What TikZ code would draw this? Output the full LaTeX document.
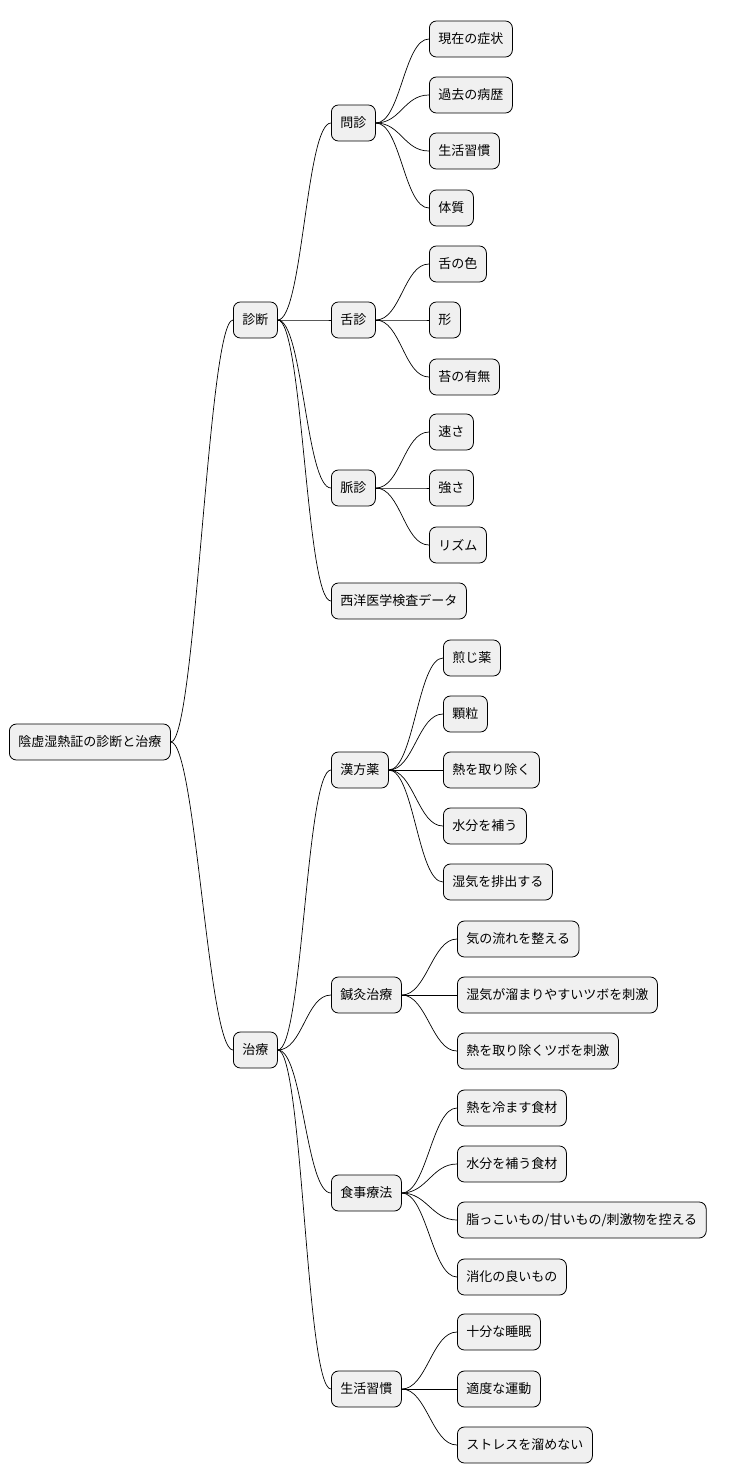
\documentclass[tikz,border=0pt]{standalone}
\usepackage{fontspec}
\setmainfont{Noto Sans CJK JP}
\begin{document}
\begin{tikzpicture}[x=1pt,y=-1pt,
  box/.style={draw=black,fill=black!6,rounded corners=7pt,minimum height=36pt,inner xsep=9pt,font=\fontsize{13pt}{15pt}\selectfont,anchor=west,line width=0.8pt},
  edge/.style={draw=black,line width=0.7pt}]
\useasboundingbox (0,0) rectangle (736,1484);
\newcommand\mm[4]{\node[box] (#1) at (#2,#3) {#4};}
\newcommand\cn[2]{\draw[edge] (#1.east) .. controls +(25,0) and +(-25,0) .. (#2.west);}
\mm{r}{9}{742}{陰虚湿熱証の診断と治療}
\mm{a}{233}{320}{診断}
\mm{b}{233}{1050}{治療}
\mm{a1}{331}{123}{問診}
\mm{a2}{331}{320}{舌診}
\mm{a3}{331}{488}{脈診}
\mm{a4}{331}{601}{西洋医学検査データ}
\mm{a11}{429}{39}{現在の症状}
\mm{a12}{429}{95}{過去の病歴}
\mm{a13}{429}{151}{生活習慣}
\mm{a14}{429}{208}{体質}
\mm{a21}{429}{264}{舌の色}
\mm{a22}{429}{320}{形}
\mm{a23}{429}{377}{苔の有無}
\mm{a31}{429}{432}{速さ}
\mm{a32}{429}{488}{強さ}
\mm{a33}{429}{545}{リズム}
\mm{b1}{331}{770}{漢方薬}
\mm{b2}{331}{995}{鍼灸治療}
\mm{b3}{331}{1193}{食事療法}
\mm{b4}{331}{1389}{生活習慣}
\mm{b11}{443}{658}{煎じ薬}
\mm{b12}{443}{714}{顆粒}
\mm{b13}{443}{770}{熱を取り除く}
\mm{b14}{443}{826}{水分を補う}
\mm{b15}{443}{882}{湿気を排出する}
\mm{b21}{457}{939}{気の流れを整える}
\mm{b22}{457}{995}{湿気が溜まりやすいツボを刺激}
\mm{b23}{457}{1051}{熱を取り除くツボを刺激}
\mm{b31}{457}{1108}{熱を冷ます食材}
\mm{b32}{457}{1164}{水分を補う食材}
\mm{b33}{457}{1220}{脂っこいもの/甘いもの/刺激物を控える}
\mm{b34}{457}{1277}{消化の良いもの}
\mm{b41}{457}{1332}{十分な睡眠}
\mm{b42}{457}{1389}{適度な運動}
\mm{b43}{457}{1445}{ストレスを溜めない}
\cn{r}{a}\cn{r}{b}
\cn{a}{a1}\cn{a}{a2}\cn{a}{a3}\cn{a}{a4}
\cn{a1}{a11}\cn{a1}{a12}\cn{a1}{a13}\cn{a1}{a14}
\cn{a2}{a21}\cn{a2}{a22}\cn{a2}{a23}
\cn{a3}{a31}\cn{a3}{a32}\cn{a3}{a33}
\cn{b}{b1}\cn{b}{b2}\cn{b}{b3}\cn{b}{b4}
\cn{b1}{b11}\cn{b1}{b12}\cn{b1}{b13}\cn{b1}{b14}\cn{b1}{b15}
\cn{b2}{b21}\cn{b2}{b22}\cn{b2}{b23}
\cn{b3}{b31}\cn{b3}{b32}\cn{b3}{b33}\cn{b3}{b34}
\cn{b4}{b41}\cn{b4}{b42}\cn{b4}{b43}
\end{tikzpicture}
\end{document}
